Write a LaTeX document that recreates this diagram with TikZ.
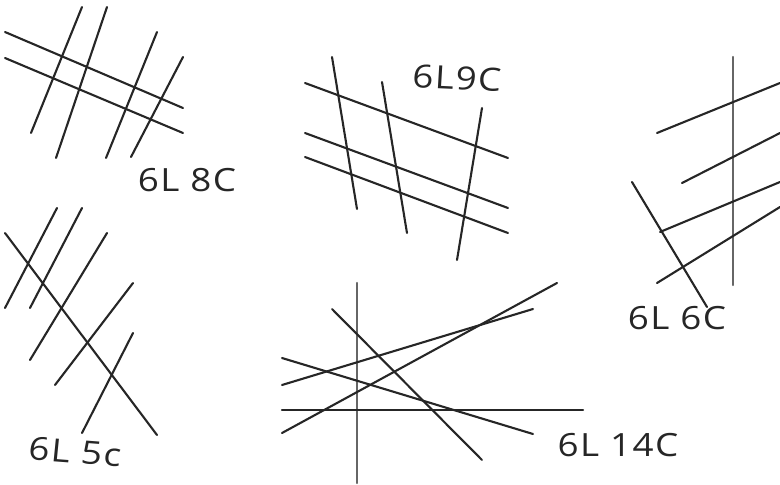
\documentclass[tikz,border=0pt]{standalone}
\usepackage{fontspec}
\setmainfont{Open Sans}
\begin{document}
\begin{tikzpicture}[x=1pt,y=-1pt,
  stroke/.style={line width=2.1pt,draw=black!85,line cap=round},
  grayline/.style={line width=2.4pt,draw=black!60,line cap=round},
  lbl/.style={font=\fontsize{32}{32}\selectfont\addfontfeatures{LetterSpace=4},text=black!85,inner sep=0pt,xscale=1.15}]
\useasboundingbox[fill=white] (0,0) rectangle (780,485);
% ---- 6L 8C ----
\draw[stroke] (5,32) -- (183,108);
\draw[stroke] (5,58) -- (183,133);
\draw[stroke] (82,7) -- (31,133);
\draw[stroke] (107,7) -- (56,158);
\draw[stroke] (157,32) -- (106,158);
\draw[stroke] (183,57) -- (131,157);
\node[lbl] (l8) at (187,180) {6L 8C};
% ---- 6L9C ----
\draw[stroke] (305,83) -- (508,158);
\draw[stroke] (305,133) -- (508,208);
\draw[stroke] (305,157) -- (508,233);
\draw[stroke] (332,57) -- (357,209);
\draw[stroke] (382,82) -- (407,233);
\draw[stroke] (482,108) -- (457,260);
\node[lbl,rotate=-3] (l9) at (457,78) {6L9C};
% ---- 6L 6C ----
\draw[grayline] (733,57) -- (733,285);
\draw[stroke] (657,133) -- (780,83);
\draw[stroke] (682,183) -- (780,133);
\draw[stroke] (660,232) -- (780,182);
\draw[stroke] (657,283) -- (780,207);
\draw[stroke] (632,182) -- (707,307);
\node[lbl] (l6) at (677,318) {6L 6C};
% ---- 6L 5c ----
\draw[stroke] (5,233) -- (157,435);
\draw[stroke] (5,308) -- (57,208);
\draw[stroke] (30,308) -- (82,208);
\draw[stroke] (30,360) -- (107,233);
\draw[stroke] (55,385) -- (133,283);
\draw[stroke] (82,433) -- (133,333);
\node[lbl,rotate=-5] (l5) at (75,452) {6L 5c};
% ---- 6L 14C ----
\draw[grayline] (357,283) -- (357,483);
\draw[stroke] (282,410) -- (583,410);
\draw[stroke] (282,433) -- (557,283);
\draw[stroke] (282,385) -- (533,309);
\draw[stroke] (282,358) -- (533,434);
\draw[stroke] (332,309) -- (482,460);
\node[lbl] (l14) at (618,445) {6L 14C};
\end{tikzpicture}
\end{document}
